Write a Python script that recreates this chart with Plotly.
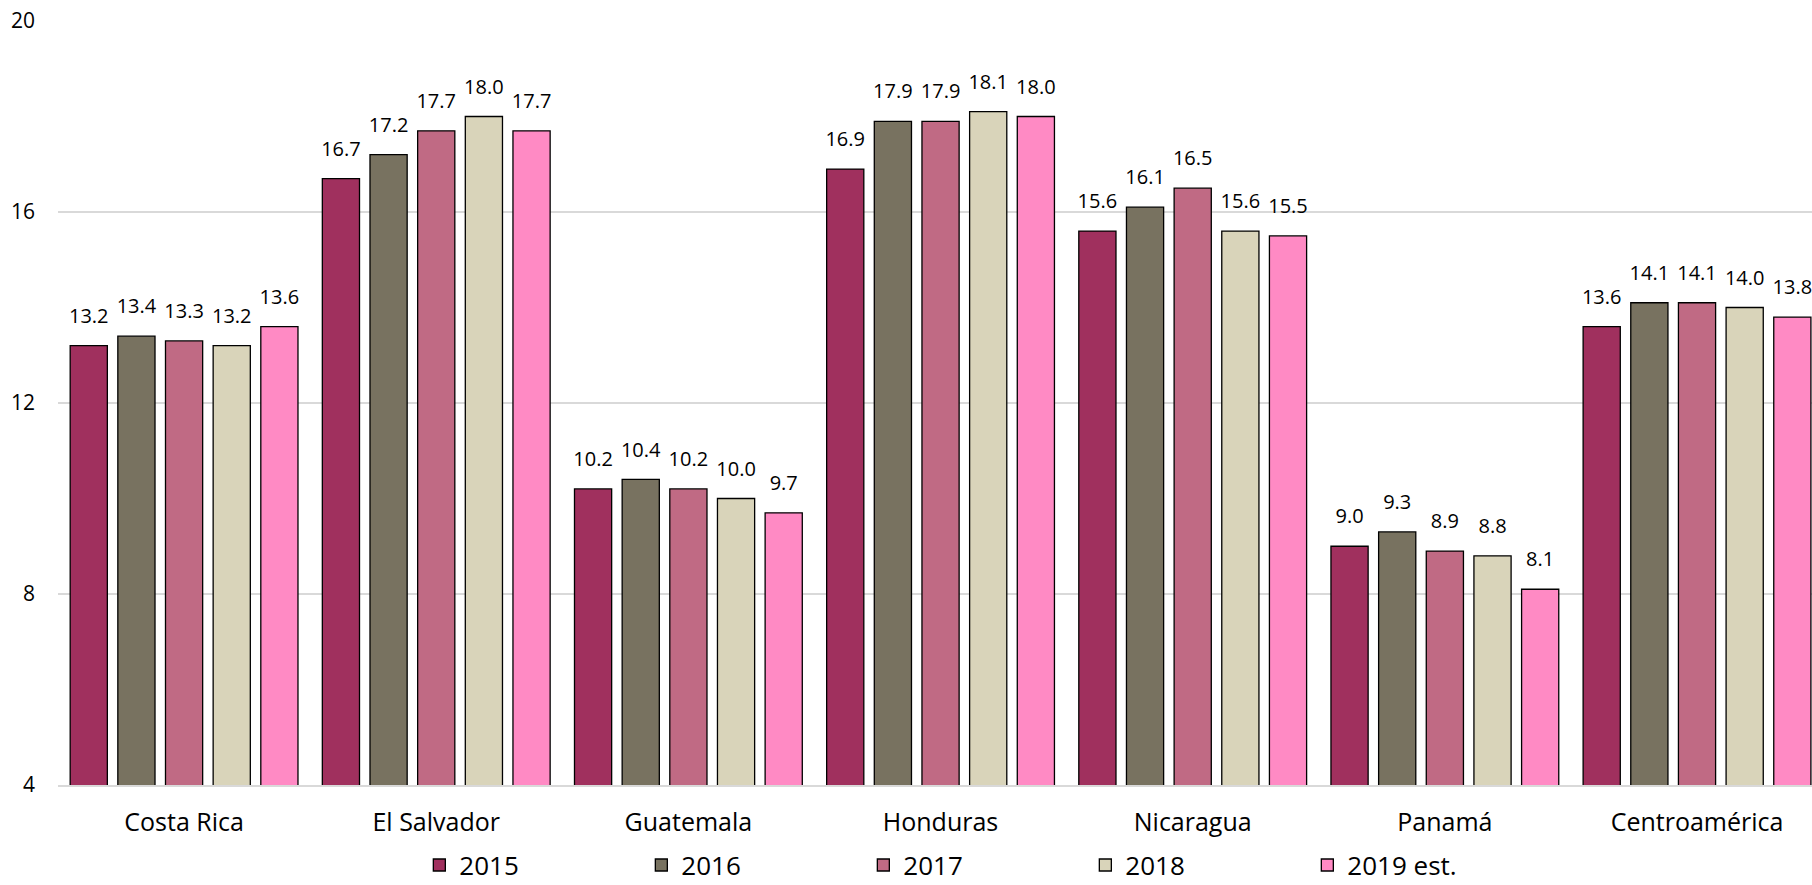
import plotly.graph_objects as go

categories = ["Costa Rica", "El Salvador", "Guatemala", "Honduras", "Nicaragua", "Panamá", "Centroamérica"]
series_names = ["2015", "2016", "2017", "2018", "2019 est."]
v2015 = [13.2, 16.7, 10.2, 16.9, 15.6, 9.0, 13.6]
v2016 = [13.4, 17.2, 10.4, 17.9, 16.1, 9.3, 14.1]
v2017 = [13.3, 17.7, 10.2, 17.9, 16.5, 8.9, 14.1]
v2018 = [13.2, 18.0, 10.0, 18.1, 15.6, 8.8, 14.0]
v2019 = [13.6, 17.7, 9.7, 18.0, 15.5, 8.1, 13.8]
y_ticks = [4, 8, 12, 16, 20]

colors = ["#A0305E", "#787260", "#C06A84", "#D9D4BA", "#FF8AC4"]
all_values = [v2015, v2016, v2017, v2018, v2019]

fig = go.Figure()
for name, vals, col in zip(series_names, all_values, colors):
    fig.add_trace(go.Bar(
        x=categories, y=vals, name=name,
        marker=dict(color=col, line=dict(color="#000000", width=1.3)),
        hoverinfo="x+y+name",
    ))
# value labels, grouped the same way as the bars
for name, vals in zip(series_names, all_values):
    fig.add_trace(go.Scatter(
        x=categories, y=vals, name=name, mode="markers+text",
        marker=dict(size=27, color="rgba(0,0,0,0)"),
        text=[f"{v:.1f}" for v in vals], textposition="top center",
        textfont=dict(family="Open Sans", size=20, color="#000000"),
        showlegend=False, hoverinfo="skip", cliponaxis=False,
    ))

fig.update_layout(
    barmode="group", bargap=0.055, bargroupgap=0.22,
    scattermode="group", scattergap=0.055,
    width=1812, height=885,
    margin=dict(l=58, r=0, t=21, b=100),
    paper_bgcolor="white", plot_bgcolor="white",
    font=dict(family="Open Sans", size=21, color="#000000"),
    showlegend=True,
    legend=dict(orientation="h", x=0.206, xanchor="left",
                yref="container", y=0.0225, yanchor="middle",
                entrywidth=177, entrywidthmode="pixels",
                font=dict(family="Open Sans", size=26, color="#000000"),
                itemwidth=30, tracegroupgap=0),
)
fig.update_yaxes(range=[4, 20], tickvals=y_ticks, showgrid=True, gridcolor="#D9D9D9", gridwidth=1.5,
                 zeroline=False, showline=False, ticks="", tickfont=dict(size=21),
                 ticklabelstandoff=22, automargin=False)
fig.update_xaxes(range=[-0.5, 6.456], showline=True, linecolor="#D9D9D9", linewidth=1.5, ticks="",
                 tickfont=dict(size=25), ticklabelstandoff=14, automargin=False)

fig.write_html("out.html", config={"displayModeBar": False},
               post_script="document.body.style.margin='0';document.body.style.overflow='hidden';")
